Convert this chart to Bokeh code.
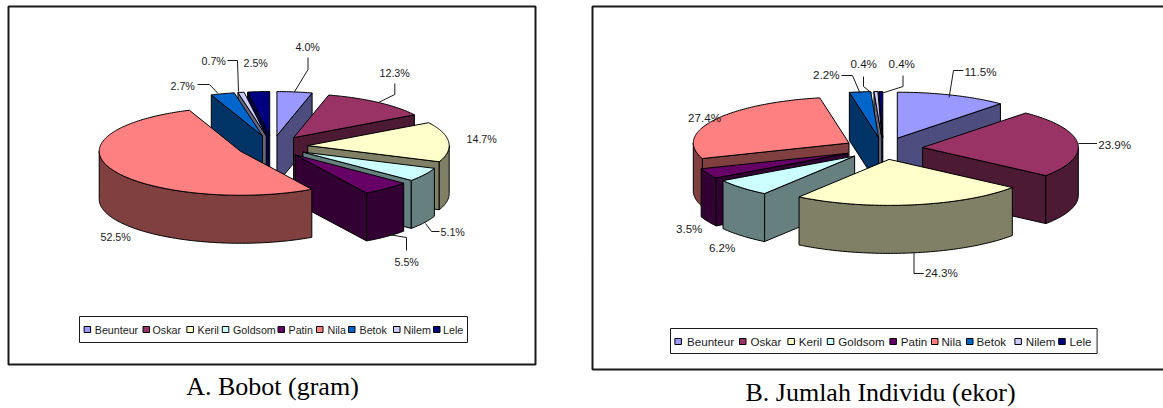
import numpy as np
from bokeh.core.properties import value
from bokeh.embed import file_html
from bokeh.models import Range1d
from bokeh.plotting import figure
from bokeh.resources import INLINE

# Fish species shown in both pies
species = ["Beunteur", "Oskar", "Keril", "Goldsom", "Patin", "Nila", "Betok", "Nilem", "Lele"]
weight_pct = [4.0, 12.3, 14.7, 5.1, 5.5, 52.5, 2.7, 0.7, 2.5]
count_pct = [11.5, 23.9, 24.3, 6.2, 3.5, 27.4, 2.2, 0.4, 0.4]

top_colors = ["#9999FF", "#993366", "#FFFFCC", "#CCFFFF", "#660066", "#FF8080", "#0066CC", "#CCCCFF", "#000080"]
side_colors = ["#4D4D80", "#4D1A33", "#808066", "#668080", "#330033", "#804040", "#003366", "#666680", "#000040"]

# Page layout, in pixels of the page
WIDTH, HEIGHT = 1163, 408
INK = "#1a1a1a"
LABEL_FONT = "Liberation Sans"
CAPTION_FONT = "Liberation Serif"

panels = [
    dict(
        values=weight_pct,
        box=(8, 6, 535, 364),
        center=(272, 146), radius=(141.4, 44), explode=(35.4, 11), depth=48,
        label_size=10.7,
        label_pos=[(295, 46), (379, 72), (466, 138), (440, 231), (394, 261),
                   (100, 236), (170, 85), (201, 60), (243, 62)],
        leaders=[[(307.5, 57), (307.5, 69), (293.6, 92)],
                 [(394.3, 83), (394.3, 94), (378, 102)],
                 [(439, 231), (431, 231), (425, 223)],
                 [(406, 250), (406, 237), (388, 234)],
                 [(197, 84), (209, 84), (217.5, 93)],
                 [(227, 60), (237, 60), (238, 91)]],
        legend_box=(79, 316, 467, 342), legend_y=329, legend_size=10.7,
        swatch_x=[83.6, 142.5, 186.4, 221.8, 277.5, 316, 348, 393, 433],
        legend_x=[94.3, 152, 197, 232.5, 288, 327, 359, 403, 442.5],
        caption="A. Bobot (gram)", caption_pos=(272, 386),
    ),
    dict(
        values=count_pct,
        box=(592, 6, 1174, 369),
        center=(882.8, 148), radius=(155.7, 46), explode=(39.5, 11), depth=48,
        label_size=11.6,
        label_pos=[(964, 71), (1097.7, 144), (924.4, 272), (708.4, 247), (675.5, 228),
                   (687.6, 117), (812.6, 74), (850, 63), (888, 63)],
        leaders=[[(962.8, 70), (953, 70), (948.6, 97)],
                 [(1096.6, 143), (1078, 143)],
                 [(923.3, 273), (913.5, 273), (913.5, 252)],
                 [(841, 75), (852, 75), (859.7, 93)],
                 [(863, 76), (863, 86), (871.8, 93)],
                 [(902.5, 75), (902.5, 86), (880.6, 93)]],
        legend_box=(670, 328, 1096.6, 353), legend_y=341, legend_size=11.6,
        swatch_x=[674.4, 739, 787.4, 826.8, 889.4, 931, 966, 1014.4, 1058.2],
        legend_x=[686.5, 750, 798.3, 837.8, 900.3, 941, 976, 1025.3, 1069],
        caption="B. Jumlah Individu (ekor)", caption_pos=(880, 392),
    ),
]


def rim(cx, cy, rx, ry, start, stop):
    """Points on the pie rim between two clockwise angles (degrees from 12 o'clock)."""
    t = np.radians(np.linspace(start, stop, max(2, int(abs(stop - start)) + 2)))
    return cx + rx * np.sin(t), cy - ry * np.cos(t)


def slice_faces(share_start, share_stop, panel):
    """Visible faces of one exploded slice, back to front, and a depth key for ordering."""
    cx, cy = panel["center"]
    rx, ry = panel["radius"]
    ex, ey = panel["explode"]
    depth = panel["depth"]
    a0, a1 = share_start * 360.0, share_stop * 360.0
    mid = np.radians((a0 + a1) / 2)
    ax, ay = cx + ex * np.sin(mid), cy - ey * np.cos(mid)

    faces = []

    # Radial walls face the viewer only on the near half of the pie
    for angle, visible in ((a1, a1 < 180), (a0, a0 > 180)):
        if visible:
            ex_x, ex_y = rim(ax, ay, rx, ry, angle, angle)
            px, py = ex_x[0], ex_y[0]
            faces.append(("side", [ax, px, px, ax], [ay, py, py + depth, ay + depth]))

    # Curved outer wall between 3 and 9 o'clock
    lo, hi = max(a0, 90.0), min(a1, 270.0)
    if lo < hi:
        x, y = rim(ax, ay, rx, ry, lo, hi)
        faces.append(("side", list(x) + list(x[::-1]), list(y) + list((y + depth)[::-1])))

    x, y = rim(ax, ay, rx, ry, a0, a1)
    faces.append(("top", [ax] + list(x), [ay] + list(y)))

    front = max(ay, float(np.max(y)))
    return faces, front


p = figure(
    width=WIDTH, height=HEIGHT,
    x_range=Range1d(0, WIDTH), y_range=Range1d(HEIGHT, 0),
    output_backend="svg", toolbar_location=None,
    min_border=0, outline_line_color=None,
    background_fill_color="white", border_fill_color="white",
)
p.xaxis.visible = False
p.yaxis.visible = False
p.grid.visible = False

for panel in panels:
    # Frame of the chart
    x0, y0, x1, y1 = panel["box"]
    p.patch([x0, x1, x1, x0], [y0, y0, y1, y1], fill_color="white",
            line_color=INK, line_width=2)

    shares = np.array(panel["values"], dtype=float)
    edges = np.concatenate(([0.0], np.cumsum(shares) / shares.sum()))

    slices = []
    for i in range(len(species)):
        faces, front = slice_faces(edges[i], edges[i + 1], panel)
        slices.append((front, i, faces))

    # Painter's order: the slice reaching lowest on the page goes last
    for front, i, faces in sorted(slices, key=lambda s: s[0]):
        for kind, xs, ys in faces:
            color = top_colors[i] if kind == "top" else side_colors[i]
            p.patch(xs, ys, fill_color=color, line_color="black", line_width=1)

    for pts in panel["leaders"]:
        p.line([q[0] for q in pts], [q[1] for q in pts], line_color=INK, line_width=1)

    for val, (lx, ly) in zip(panel["values"], panel["label_pos"]):
        p.text([lx], [ly], text=[f"{val:.1f}%"], text_font=value(LABEL_FONT),
               text_font_size=f"{panel['label_size']}px", text_color=INK,
               text_align="left", text_baseline="middle")

    # Legend strip
    bx0, by0, bx1, by1 = panel["legend_box"]
    p.patch([bx0, bx1, bx1, bx0], [by0, by0, by1, by1], fill_color="white",
            line_color=INK, line_width=1)
    ly = panel["legend_y"]
    for name, color, sx, tx in zip(species, top_colors, panel["swatch_x"], panel["legend_x"]):
        p.patch([sx, sx + 6.5, sx + 6.5, sx], [ly - 3, ly - 3, ly + 3, ly + 3],
                fill_color=color, line_color="black", line_width=1)
        p.text([tx], [ly], text=[name], text_font=value(LABEL_FONT),
               text_font_size=f"{panel['legend_size']}px", text_color=INK,
               text_align="left", text_baseline="middle")

    cap_x, cap_y = panel["caption_pos"]
    p.text([cap_x], [cap_y], text=[panel["caption"]], text_font=value(CAPTION_FONT),
           text_font_size="26px", text_color="black",
           text_align="center", text_baseline="middle")

open("out.html", "w").write(file_html(p, INLINE))
